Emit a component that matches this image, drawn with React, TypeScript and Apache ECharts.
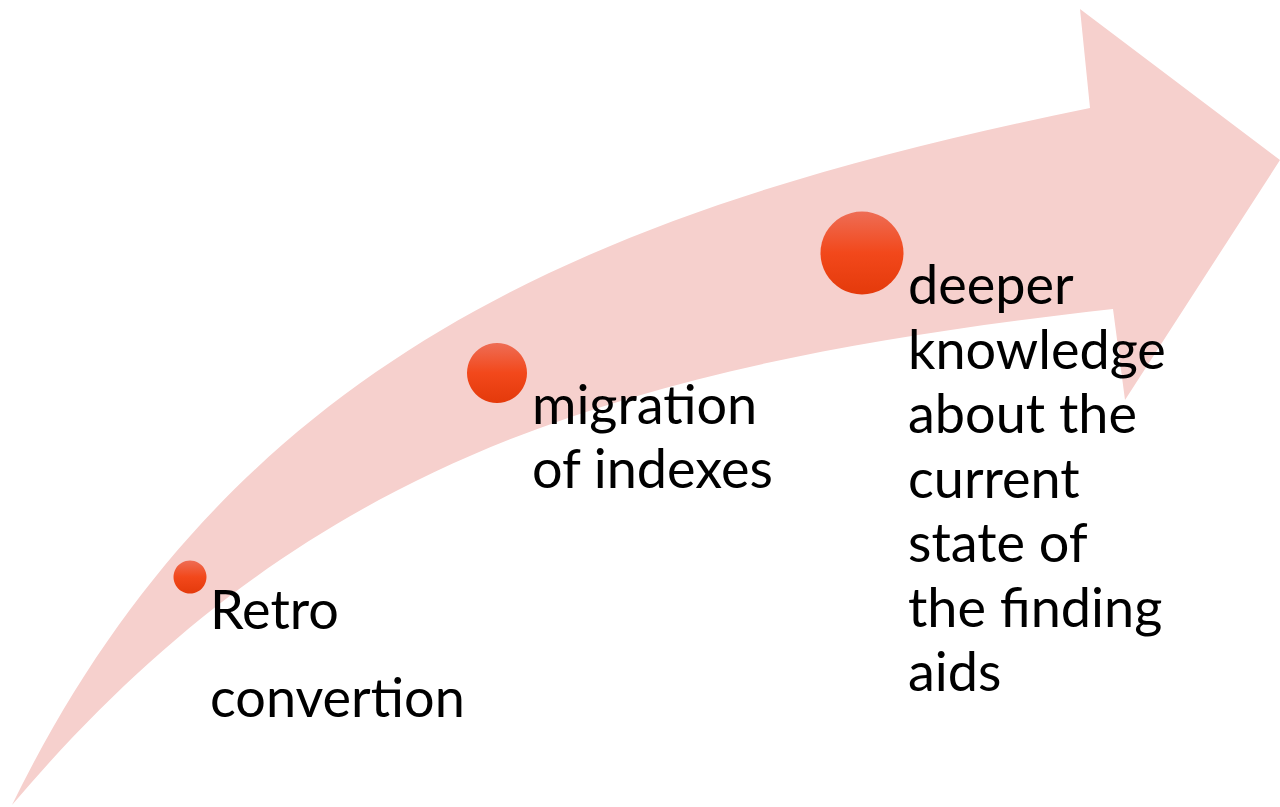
import React, { useEffect, useRef } from "react";
import * as echarts from "echarts";

// Step texts (one entry per line)
const step1Lines = ["Retro", "convertion"];
const step2Lines = ["migration", "of indexes"];
const step3Lines = ["deeper", "knowledge", "about the", "current", "state of", "the finding", "aids"];

// Arrow outline (SVG path data)
const arrowPath =
  "M 12 805 C 232 355 600 208 1090 108 L 1080 9 L 1280 160 L 1125 400 L 1113 309 C 616 365 303 462 12 805 Z";

const FONT = "Lato, 'Open Sans', sans-serif";
const FONT_SIZE = 54;
const BASELINE_SHIFT = 8;

export default function App() {
  const ref = useRef<HTMLDivElement>(null);
  useEffect(() => {
    if (!ref.current) return;
    try {
      echarts.graphic.registerShape("arrowShape", echarts.graphic.extendPath(arrowPath, {}));
    } catch (e) {}
    const chart = echarts.init(ref.current, undefined, { renderer: "svg" });

    const grad = () =>
      new echarts.graphic.LinearGradient(0, 0, 0, 1, [
        { offset: 0, color: "#EE6D55" },
        { offset: 0.5, color: "#F2481B" },
        { offset: 1, color: "#E43A0B" },
      ]);

    const circles = [
      { cx: 190, cy: 577, r: 16.5 },
      { cx: 497, cy: 373, r: 30 },
      { cx: 862, cy: 253, r: 41.5 },
    ];

    const textBlocks = [
      { x: 210, baselines: [627, 715], lines: step1Lines },
      { x: 532, baselines: [422, 486], lines: step2Lines },
      { x: 908, baselines: [302, 367, 431, 496, 560, 625, 689], lines: step3Lines },
    ];

    const elements: any[] = [
      {
        type: "arrowShape",
        x: 0,
        y: 0,
        shape: {},
        style: { fill: "#F6D0CD" },
      },
    ];
    circles.forEach((c) =>
      elements.push({
        type: "circle",
        shape: { cx: c.cx, cy: c.cy, r: c.r },
        style: { fill: grad() },
      })
    );
    textBlocks.forEach((b) =>
      b.lines.forEach((line, i) =>
        elements.push({
          type: "text",
          x: b.x,
          y: b.baselines[i] + BASELINE_SHIFT,
          style: {
            text: line,
            fill: "#000000",
            font: `${FONT_SIZE}px ${FONT}`,
            textAlign: "left",
            textVerticalAlign: "bottom",
          },
        })
      )
    );

    chart.setOption({
      animation: false,
      backgroundColor: "#ffffff",
      graphic: { elements },
    });
    return () => chart.dispose();
  }, []);
  return (
    <div
      ref={ref}
      style={{ position: "fixed", left: 0, top: 0, width: 1280, height: 807 }}
    />
  );
}
